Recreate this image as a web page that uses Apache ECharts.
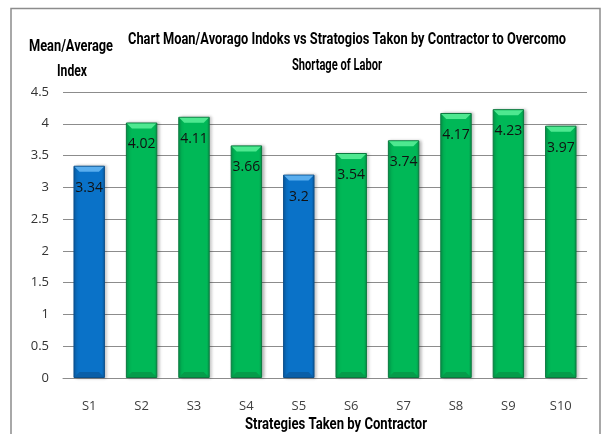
<!DOCTYPE html>
<html>
<head>
<meta charset="utf-8">
<script src="https://cdn.jsdelivr.net/npm/echarts@6/dist/echarts.min.js"></script>
<style>
  html, body { margin: 0; padding: 0; background: #fff; }
  #chart { width: 603px; height: 434px; }
</style>
</head>
<body>
<div id="chart"></div>
<script>
// Strategy codes along the category axis
const categories = ['S1', 'S2', 'S3', 'S4', 'S5', 'S6', 'S7', 'S8', 'S9', 'S10'];
// Mean/average index for each strategy
const meanIndex = [3.34, 4.02, 4.11, 3.66, 3.2, 3.54, 3.74, 4.17, 4.23, 3.97];
// Which strategies are drawn in the blue colour group
const blueGroup = ['S1', 'S5'];
// Value axis tick labels
const yTicks = ['0', '0.5', '1', '1.5', '2', '2.5', '3', '3.5', '4', '4.5'];

const titleLines = ['Chart Moan/Avorago Indoks vs Stratogios Takon by Contractor to Overcomo', 'Shortage of Labor'];
const yName = ['Mean/Average', 'Index'];
const xName = 'Strategies Taken by Contractor';

const headFont = 'bold 17px Roboto, "DejaVu Sans", sans-serif';
const bodyFont = '"Open Sans", "Liberation Sans", sans-serif';

// Horizontal squeeze that gives the heavy headings a condensed look
const measureCtx = document.createElement('canvas').getContext('2d');
function squeezeTo(text, font, width) {
  measureCtx.font = font;
  return width / measureCtx.measureText(text).width;
}

function heading(text, cx, cy, width) {
  return {
    type: 'text',
    x: cx, y: cy,
    scaleX: squeezeTo(text, headFont, width),
    style: {
      text: text, x: 0, y: 0,
      textAlign: 'center', textVerticalAlign: 'middle',
      font: headFont, fill: '#000'
    }
  };
}

const palette = {
  blue: { edge: '#0a5aa0', mid: '#0a72c8', border: '#0b4f8a', top: '#5aaeee', bottom: '#0a5fa8' },
  green: { edge: '#07944a', mid: '#00b857', border: '#0a7a3e', top: '#4ee890', bottom: '#059c4a' }
};

function tone(i) {
  return blueGroup.includes(categories[i]) ? palette.blue : palette.green;
}

function barFill(p) {
  return {
    type: 'linear', x: 0, y: 0, x2: 1, y2: 0,
    colorStops: [
      { offset: 0, color: p.edge },
      { offset: 0.1, color: p.mid },
      { offset: 0.9, color: p.mid },
      { offset: 1, color: p.edge }
    ]
  };
}

const barData = meanIndex.map((v, i) => {
  const p = tone(i);
  return {
    value: v,
    itemStyle: {
      color: barFill(p),
      borderColor: p.border,
      borderWidth: 1,
      shadowColor: 'rgba(0,0,0,0.25)',
      shadowBlur: 3,
      shadowOffsetX: 2,
      shadowOffsetY: 0
    }
  };
});

// Bevel strips along each bar's top and bottom edges
const bevelData = meanIndex.map((v, i) => ({ value: [i, v] }));

const chart = echarts.init(document.getElementById('chart'));
chart.setOption({
  animation: false,
  backgroundColor: '#ffffff',
  grid: { left: 63, right: 16, top: 92, bottom: 56, containLabel: false },
  graphic: [
    {
      type: 'polyline',
      shape: { points: [[11, 434], [11, 8.5], [600, 8.5], [600, 434]] },
      style: { stroke: '#8c8c8c', lineWidth: 1.5, fill: null }
    },
    heading(titleLines[0], 347, 40, 438),
    heading(titleLines[1], 337, 66, 90),
    heading(yName[0], 71, 47, 84),
    heading(yName[1], 72, 72, 30),
    heading(xName, 336, 425, 182)
  ],
  xAxis: {
    type: 'category',
    data: categories,
    axisLine: { lineStyle: { color: '#8c8c8c' } },
    axisTick: { show: false },
    axisLabel: { color: '#404040', fontFamily: bodyFont, fontSize: 13, margin: 22 }
  },
  yAxis: {
    type: 'value',
    min: 0, max: 4.5, interval: 0.5,
    axisLine: { show: false },
    axisTick: { show: false },
    splitLine: { lineStyle: { color: '#8c8c8c', width: 1 } },
    axisLabel: {
      color: '#333', fontFamily: bodyFont, fontSize: 13, margin: 14,
      formatter: (v) => yTicks[Math.round(v * 2)] ?? String(v)
    }
  },
  series: [
    {
      type: 'bar',
      data: barData,
      barWidth: '60%',
      z: 2,
      label: {
        show: true, position: 'insideTop', distance: 15,
        color: '#111', fontFamily: bodyFont, fontSize: 14
      }
    },
    {
      type: 'custom',
      z: 3,
      silent: true,
      data: bevelData,
      renderItem: (params, api) => {
        const idx = api.value(0);
        const p = tone(idx);
        const top = api.coord([idx, api.value(1)]);
        const base = api.coord([idx, 0]);
        const w = api.size([1, 0])[0] * 0.6;
        const x0 = top[0] - w / 2 + 1;
        const x1 = top[0] + w / 2 - 1;
        return {
          type: 'group',
          children: [
            {
              type: 'polygon',
              shape: { points: [[x0, top[1] + 1], [x1, top[1] + 1], [x1 - 5, top[1] + 6], [x0 + 5, top[1] + 6]] },
              style: { fill: p.top }
            },
            {
              type: 'polygon',
              shape: { points: [[x0 + 5, base[1] - 6], [x1 - 5, base[1] - 6], [x1, base[1] - 1], [x0, base[1] - 1]] },
              style: { fill: p.bottom }
            }
          ]
        };
      },
      encode: { x: 0, y: 1 }
    }
  ]
});
</script>
</body>
</html>
